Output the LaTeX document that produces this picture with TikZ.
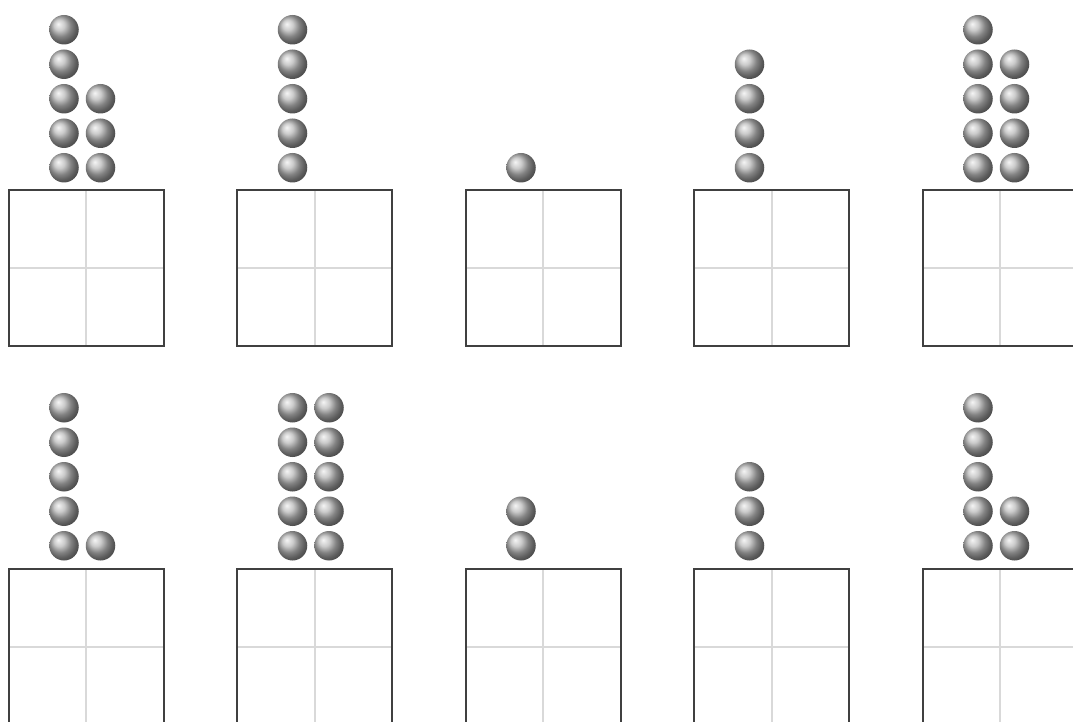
\documentclass[tikz,border=0pt]{standalone}
\usetikzlibrary{positioning}
\definecolor{clrframe}{HTML}{404040}
\definecolor{clrgrid}{HTML}{D9D9D9}
\definecolor{clrball}{HTML}{BABABA}

\begin{document}
\begin{tikzpicture}[
    x=1pt, y=1pt,
    box/.style={draw=clrframe, line width=2pt, minimum width=155pt,
                minimum height=156pt, inner sep=0pt,
                path picture={
                  \draw[clrgrid, line width=2pt] (path picture bounding box.north) -- (path picture bounding box.south);
                  \draw[clrgrid, line width=2pt] (path picture bounding box.west) -- (path picture bounding box.east);
                }},
    ball/.style={circle, shading=ball, ball color=clrball, minimum size=29.5pt,
                 inner sep=0pt, outer sep=0pt},
]
\clip (0,0) rectangle (1073,721);
\useasboundingbox (0,0) rectangle (1073,721);
% top row
\node[box] (box_1) at (86,452.5) {};
\node[box] (box_2) at (314.5,452.5) {};
\node[box] (box_3) at (543,452.5) {};
\node[box] (box_4) at (771.5,452.5) {};
\node[box] (box_5) at (1000,452.5) {};
% bottom row
\node[box] (box_6) at (86,74.5) {};
\node[box] (box_7) at (314.5,74.5) {};
\node[box] (box_8) at (543,74.5) {};
\node[box] (box_9) at (771.5,74.5) {};
\node[box] (box_10) at (1000,74.5) {};
% balls, box 1: 5 + 3
\node[ball, above=7pt of box_1, xshift=-22pt] (b_1_a1) {};
\node[ball, above=5pt of b_1_a1] (b_1_a2) {};
\node[ball, above=5pt of b_1_a2] (b_1_a3) {};
\node[ball, above=5pt of b_1_a3] (b_1_a4) {};
\node[ball, above=5pt of b_1_a4] (b_1_a5) {};
\node[ball, right=7pt of b_1_a1] (b_1_b1) {};
\node[ball, right=7pt of b_1_a2] (b_1_b2) {};
\node[ball, right=7pt of b_1_a3] (b_1_b3) {};
% balls, box 2: 5
\node[ball, above=7pt of box_2, xshift=-22pt] (b_2_a1) {};
\node[ball, above=5pt of b_2_a1] (b_2_a2) {};
\node[ball, above=5pt of b_2_a2] (b_2_a3) {};
\node[ball, above=5pt of b_2_a3] (b_2_a4) {};
\node[ball, above=5pt of b_2_a4] (b_2_a5) {};
% balls, box 3: 1
\node[ball, above=7pt of box_3, xshift=-22pt] (b_3_a1) {};
% balls, box 4: 4
\node[ball, above=7pt of box_4, xshift=-22pt] (b_4_a1) {};
\node[ball, above=5pt of b_4_a1] (b_4_a2) {};
\node[ball, above=5pt of b_4_a2] (b_4_a3) {};
\node[ball, above=5pt of b_4_a3] (b_4_a4) {};
% balls, box 5: 5 + 4
\node[ball, above=7pt of box_5, xshift=-22pt] (b_5_a1) {};
\node[ball, above=5pt of b_5_a1] (b_5_a2) {};
\node[ball, above=5pt of b_5_a2] (b_5_a3) {};
\node[ball, above=5pt of b_5_a3] (b_5_a4) {};
\node[ball, above=5pt of b_5_a4] (b_5_a5) {};
\node[ball, right=7pt of b_5_a1] (b_5_b1) {};
\node[ball, right=7pt of b_5_a2] (b_5_b2) {};
\node[ball, right=7pt of b_5_a3] (b_5_b3) {};
\node[ball, right=7pt of b_5_a4] (b_5_b4) {};
% balls, box 6: 5 + 1
\node[ball, above=7pt of box_6, xshift=-22pt] (b_6_a1) {};
\node[ball, above=5pt of b_6_a1] (b_6_a2) {};
\node[ball, above=5pt of b_6_a2] (b_6_a3) {};
\node[ball, above=5pt of b_6_a3] (b_6_a4) {};
\node[ball, above=5pt of b_6_a4] (b_6_a5) {};
\node[ball, right=7pt of b_6_a1] (b_6_b1) {};
% balls, box 7: 5 + 5
\node[ball, above=7pt of box_7, xshift=-22pt] (b_7_a1) {};
\node[ball, above=5pt of b_7_a1] (b_7_a2) {};
\node[ball, above=5pt of b_7_a2] (b_7_a3) {};
\node[ball, above=5pt of b_7_a3] (b_7_a4) {};
\node[ball, above=5pt of b_7_a4] (b_7_a5) {};
\node[ball, right=7pt of b_7_a1] (b_7_b1) {};
\node[ball, right=7pt of b_7_a2] (b_7_b2) {};
\node[ball, right=7pt of b_7_a3] (b_7_b3) {};
\node[ball, right=7pt of b_7_a4] (b_7_b4) {};
\node[ball, right=7pt of b_7_a5] (b_7_b5) {};
% balls, box 8: 2
\node[ball, above=7pt of box_8, xshift=-22pt] (b_8_a1) {};
\node[ball, above=5pt of b_8_a1] (b_8_a2) {};
% balls, box 9: 3
\node[ball, above=7pt of box_9, xshift=-22pt] (b_9_a1) {};
\node[ball, above=5pt of b_9_a1] (b_9_a2) {};
\node[ball, above=5pt of b_9_a2] (b_9_a3) {};
% balls, box 10: 5 + 2
\node[ball, above=7pt of box_10, xshift=-22pt] (b_10_a1) {};
\node[ball, above=5pt of b_10_a1] (b_10_a2) {};
\node[ball, above=5pt of b_10_a2] (b_10_a3) {};
\node[ball, above=5pt of b_10_a3] (b_10_a4) {};
\node[ball, above=5pt of b_10_a4] (b_10_a5) {};
\node[ball, right=7pt of b_10_a1] (b_10_b1) {};
\node[ball, right=7pt of b_10_a2] (b_10_b2) {};
\end{tikzpicture}
\end{document}
